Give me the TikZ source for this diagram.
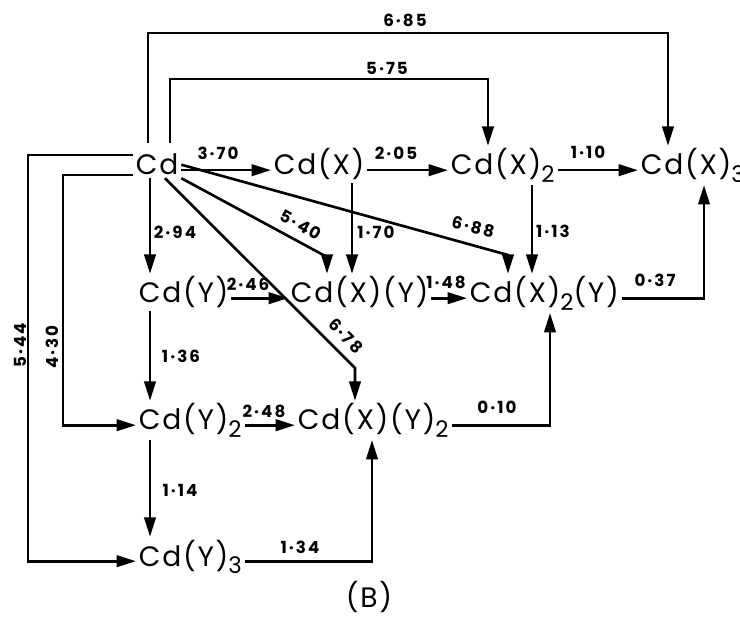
\documentclass[tikz,border=0pt]{standalone}
\usepackage{fontspec}
\setmainfont{Poppins}
\newfontfamily\chemfont{Poppins}[LetterSpace=6]
\newfontfamily\numfont{Poppins}[LetterSpace=12]
\usetikzlibrary{arrows.meta}
\newcommand{\lo}[1]{\raisebox{-4pt}{\fontsize{13}{13}\selectfont #1}}
\tikzset{
  chem/.style={anchor=base west,inner sep=1.5pt,font=\chemfont\fontsize{16}{18}\selectfont},
  lbl/.style={inner sep=0pt,font=\numfont\bfseries\fontsize{9.5}{11}\selectfont},
  arr/.style={line width=1.5pt,-{Triangle[length=11pt,width=6.5pt]}},
}
\begin{document}
\begin{tikzpicture}[x=0.02cm,y=-0.02cm]
\useasboundingbox (0,0) rectangle (740,624);
% species
\node[chem] (cd)    at (133,175) {Cd};
\node[chem] (cdx)   at (271,175) {Cd(X)};
\node[chem] (cdxx)  at (448,175) {Cd(X)\lo{2}};
\node[chem] (cdxxx) at (638,175) {Cd(X)\lo{3}};
\node[chem] (cdy)   at (136,303) {Cd(Y)};
\node[chem] (cdxy)  at (288,303) {Cd(X)(Y)};
\node[chem] (cdxxy) at (467,303) {Cd(X)\lo{2}(Y)};
\node[chem] (cdyy)  at (136,430) {Cd(Y)\lo{2}};
\node[chem] (cdxyy) at (295,430) {Cd(X)(Y)\lo{2}};
\node[chem] (cdyyy) at (136,566) {Cd(Y)\lo{3}};
\node[chem] (tag)   at (343,607) {(B)};
% straight steps
\draw[arr] (cd.mid east) -- (cdx.mid west);
\draw[arr] (cdx.mid east) -- (cdxx.mid west);
\draw[arr] (cdxx.mid east) -- (cdxxx.mid west);
\draw[arr] (cdy.mid east) -- (cdxy.mid west);
\draw[arr] (cdxy.mid east) -- (cdxxy.mid west);
\draw[arr] (cdyy.mid east) -- (cdxyy.mid west);
\draw[arr] (cd.south -| 150,0) -- (cdy.north -| 150,0);
\draw[arr] (cdy.south -| 150,0) -- (cdyy.north -| 150,0);
\draw[arr] (cdyy.south -| 150,0) -- (cdyyy.north -| 150,0);
\draw[arr] (cdx.south -| 352,0) -- (cdxy.north -| 352,0);
\draw[arr] (cdxx.south -| 532,0) -- (cdxxy.north -| 532,0);
% slanted steps
\draw[arr] (cd.south east) -- (327,257) -- (cdxy.north -| 327,0);
\draw[arr] (cd.east) -- (508,255) -- (cdxxy.north -| 508,0);
\draw[arr] (cd.300) -- (355,368) -- (cdxyy.north -| 355,0);
% loops round the outside
\draw[arr,shorten <=4.5pt] (cd.north -| 148,0) |- (668,33) -- (cdxxx.north -| 668,0);
\draw[arr,shorten <=4.5pt] (cd.north -| 170,0) |- (488,79) -- (cdxx.north -| 488,0);
\draw[arr] (cd.west |- 0,155) -- (28,155) |- (cdyyy.mid west);
\draw[arr] (cd.west |- 0,175) -- (63,175) |- (cdyy.mid west);
\draw[arr] (cdxxy.mid east) -| (cdxxx.south -| 704,0);
\draw[arr] (cdxyy.mid east) -| (cdxxy.south -| 550,0);
\draw[arr] (cdyyy.mid east) -| (cdxyy.south -| 372,0);
% constants
\node[lbl] (k370) at (218,153) {3·70};
\node[lbl] (k205) at (396,153) {2·05};
\node[lbl] (k110) at (588,152) {1·10};
\node[lbl] (k685) at (405,20) {6·85};
\node[lbl] (k575) at (387,68) {5·75};
\node[lbl,rotate=90] (k544) at (20,345) {5·44};
\node[lbl,rotate=90] (k430) at (52,347) {4·30};
\node[lbl] (k294) at (175,232) {2·94};
\node[lbl] (k136) at (181,356) {1·36};
\node[lbl] (k114) at (180,490) {1·14};
\node[lbl] (k246) at (248,284) {2·46};
\node[lbl] (k148) at (446,282) {1·48};
\node[lbl] (k248) at (264,411) {2·48};
\node[lbl] (k170) at (376,232) {1·70};
\node[lbl] (k113) at (553,231) {1·13};
\node[lbl,rotate=-29] (k540) at (301,225) {5·40};
\node[lbl,rotate=-14] (k688) at (473,227) {6·88};
\node[lbl,rotate=-45] (k678) at (346,336) {6·78};
\node[lbl] (k037) at (655,280) {0·37};
\node[lbl] (k010) at (497,407) {0·10};
\node[lbl] (k134) at (300,547) {1·34};
\end{tikzpicture}
\end{document}
